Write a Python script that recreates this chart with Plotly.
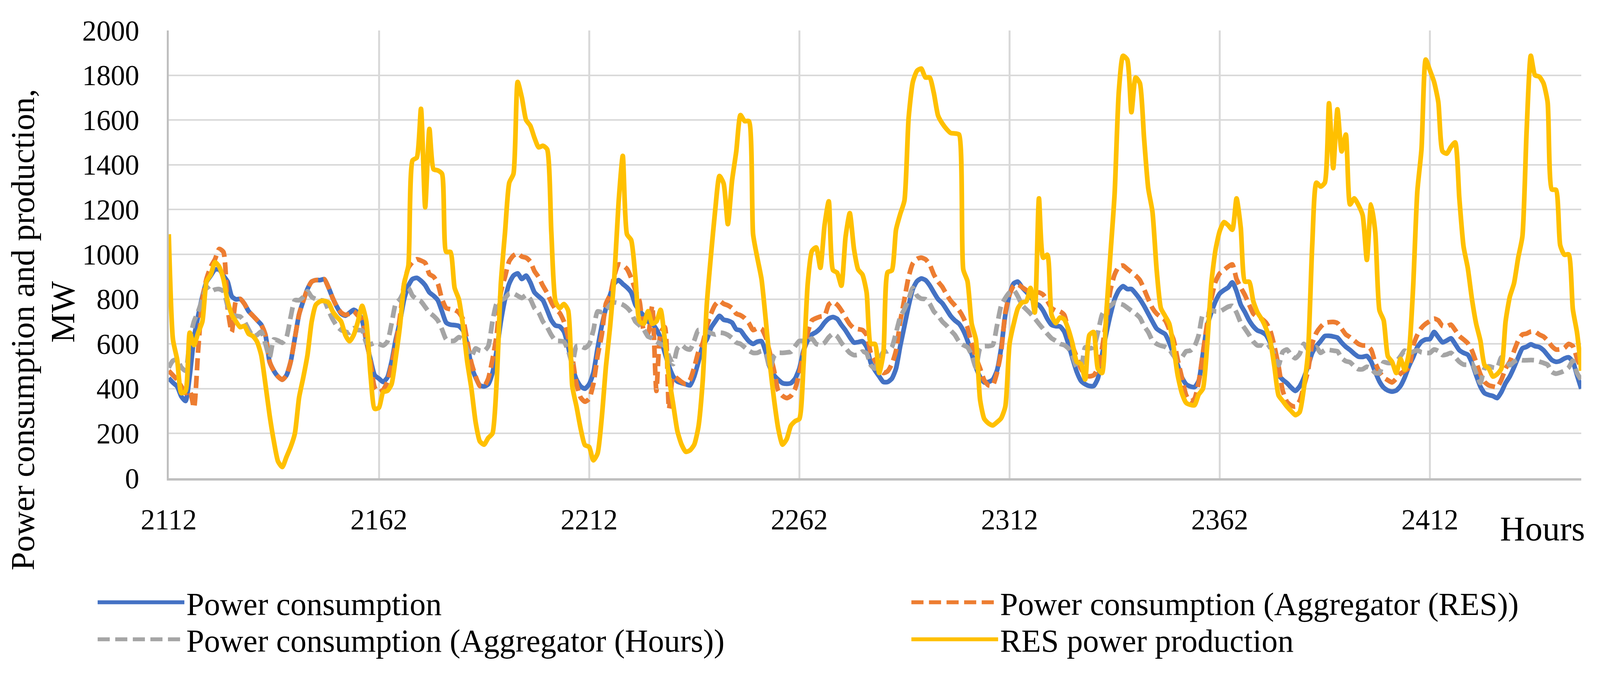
import plotly.graph_objects as go

hours = list(range(2112, 2449))

power_consumption = [
    447, 427, 410, 365, 345, 460, 626, 726, 812, 878,
    905, 932, 932, 905, 878, 812, 799, 801, 779, 746,
    726, 706, 686, 640, 520, 480, 454, 440, 460, 520,
    626, 732, 792, 845, 878, 885, 885, 889, 852, 805,
    766, 735, 726, 739, 752, 740, 705, 610, 530, 460,
    445, 430, 450, 520, 620, 700, 800, 860, 890, 895,
    882, 862, 830, 815, 795, 745, 695, 686, 684, 680,
    660, 600, 500, 450, 415, 410, 420, 470, 570, 700,
    800, 870, 905, 915, 890, 905, 875, 830, 812, 795,
    752, 706, 682, 678, 655, 590, 500, 440, 410, 400,
    420, 470, 580, 680, 760, 820, 870, 885, 868, 852,
    830, 775, 748, 725, 700, 690, 665, 625, 560, 500,
    455, 432, 425, 420, 415, 455, 520, 590, 620, 672,
    700, 725, 708, 704, 695, 665, 660, 635, 612, 600,
    610, 612, 565, 495, 460, 440, 425, 422, 425, 445,
    490, 570, 615, 642, 653, 670, 695, 713, 720, 712,
    685, 660, 630, 606, 608, 612, 587, 515, 482, 455,
    430, 430, 445, 490, 590, 680, 770, 845, 880, 892,
    885, 862, 830, 800, 782, 754, 725, 705, 690, 660,
    615, 555, 496, 452, 428, 430, 440, 480, 580, 730,
    820, 870, 878, 852, 832, 810, 784, 773, 748, 712,
    685, 679, 678, 655, 600, 535, 475, 435, 420, 412,
    412, 445, 550, 645, 730, 800, 840, 858, 845, 845,
    825, 800, 770, 735, 700, 668, 655, 644, 606, 555,
    505, 450, 420, 410, 407, 435, 555, 680, 740, 790,
    825, 840, 852, 875, 835, 775, 742, 705, 678, 660,
    653, 640, 605, 540, 462, 440, 425, 405, 390, 410,
    448, 500, 560, 590, 612, 635, 636, 633, 628, 606,
    587, 573, 556, 543, 542, 546, 522, 475, 432, 405,
    392, 387, 392, 412, 450, 500, 540, 585, 610, 620,
    622, 653, 630, 607, 615, 625, 600, 572, 560, 552,
    515, 460, 410, 380, 372, 367, 358, 385, 425, 455,
    495, 540, 580, 587, 598, 590, 586, 572, 550, 528,
    520, 524, 535, 540, 520, 460, 400,
]

consumption_aggregator_res = [
    480, 460, 440, 410, 380, 390, 315, 573, 800, 892,
    945, 978, 1024, 1011, 759, 653, 792, 801, 779, 746,
    726, 706, 686, 640, 520, 480, 454, 440, 460, 520,
    626, 732, 792, 845, 878, 885, 885, 889, 852, 805,
    766, 740, 730, 735, 745, 726, 710, 620, 520, 405,
    385, 395, 430, 510, 600, 720, 870, 940, 965, 978,
    972, 962, 912, 900, 870, 800, 760, 755, 752, 740,
    710, 613, 515, 455, 412, 410, 445, 530, 640, 830,
    900, 970, 995, 1004, 990, 985, 968, 925, 898, 860,
    828, 786, 755, 738, 700, 630, 540, 420, 360, 342,
    355, 420, 545, 640, 780, 820, 905, 955, 951, 935,
    895, 840, 790, 660, 645, 770, 390, 650, 675, 310,
    455, 445, 430, 420, 440, 495, 565, 603, 680, 735,
    775, 792, 779, 772, 760, 735, 728, 715, 693, 662,
    670, 668, 630, 560, 480, 390, 368, 358, 368, 400,
    470, 560, 650, 705, 715, 722, 726, 776, 788, 775,
    750, 718, 688, 670, 666, 662, 640, 560, 525, 490,
    470, 478, 510, 570, 700, 800, 900, 960, 980, 985,
    978, 955, 910, 878, 855, 822, 793, 772, 750, 718,
    673, 600, 540, 490, 437, 415, 415, 470, 565, 740,
    820, 860, 865, 853, 840, 833, 826, 830, 820, 792,
    760, 748, 745, 730, 660, 590, 540, 490, 460, 455,
    460, 490, 580, 700, 840, 910, 945, 950, 935, 920,
    905, 885, 845, 800, 760, 735, 720, 706, 665, 620,
    530, 450, 372, 342, 355, 430, 560, 690, 800, 878,
    915, 930, 945, 955, 890, 852, 818, 775, 735, 720,
    712, 695, 660, 590, 500, 390, 341, 325, 320, 345,
    410, 480, 600, 650, 676, 693, 697, 698, 693, 668,
    642, 630, 615, 600, 593, 592, 575, 515, 475, 450,
    438, 428, 445, 467, 480, 494, 590, 640, 672, 690,
    702, 713, 705, 680, 678, 686, 662, 635, 620, 603,
    570, 518, 465, 430, 415, 410, 407, 440, 490, 520,
    568, 615, 642, 646, 655, 655, 642, 633, 615, 590,
    575, 576, 582, 600, 590, 535, 490,
]

consumption_aggregator_hours = [
    494, 525, 530, 495, 480, 620, 700, 745, 800, 855,
    835, 843, 845, 835, 770, 730, 725, 722, 700, 665,
    635, 640, 655, 600, 540, 620, 615, 605, 630, 720,
    795, 795, 810, 835, 810, 800, 795, 792, 750, 710,
    680, 662, 655, 650, 670, 662, 660, 605, 598, 605,
    600, 593, 610, 690, 780, 800, 835, 850, 815, 800,
    790, 765, 740, 725, 705, 665, 620, 613, 615, 630,
    620, 575, 545, 580, 570, 568, 590, 700, 780, 795,
    805, 825, 825, 815, 805, 818, 800, 760, 740, 700,
    675, 640, 615, 613, 610, 570, 515, 590, 590, 582,
    598, 660, 745, 742, 750, 775, 785, 782, 775, 762,
    740, 700, 683, 664, 633, 625, 610, 600, 590, 545,
    510, 580, 595, 580, 575, 615, 662, 658, 655, 648,
    642, 650, 648, 640, 626, 606, 600, 585, 570, 560,
    560, 568, 555, 490, 545, 560, 560, 562, 565, 590,
    613, 613, 615, 624, 600, 595, 605, 630, 645, 634,
    605, 582, 560, 550, 552, 566, 558, 505, 490, 530,
    565, 567, 585, 650, 720, 755, 800, 850, 815, 802,
    800, 780, 745, 726, 700, 682, 660, 640, 610, 595,
    585, 550, 495, 580, 590, 590, 595, 680, 770, 805,
    830, 840, 812, 773, 754, 735, 714, 690, 667, 645,
    625, 614, 600, 595, 580, 545, 495, 494, 585, 580,
    585, 650, 730, 758, 770, 785, 780, 775, 762, 748,
    735, 717, 680, 653, 615, 600, 592, 587, 575, 548,
    530, 540, 567, 570, 590, 640, 730, 730, 750, 745,
    745, 755, 766, 770, 740, 695, 668, 640, 610, 593,
    593, 580, 590, 550, 505, 565, 575, 550, 536, 555,
    600, 575, 575, 585, 560, 572, 573, 570, 567, 537,
    523, 518, 500, 487, 487, 498, 490, 470, 470, 518,
    515, 515, 522, 545, 570, 560, 565, 572, 562, 560,
    560, 575, 568, 550, 553, 560, 541, 520, 508, 507,
    512, 470, 425, 490, 500, 495, 494, 540, 535, 505,
    520, 530, 527, 527, 528, 527, 521, 515, 507, 475,
    467, 472, 480, 494, 525, 470, 440,
]

res_power_production = [
    1090, 620, 530, 380, 390, 650, 595, 650, 700, 880,
    910, 965, 945, 890, 790, 730, 700, 675, 680, 645,
    635, 610, 550, 420, 280, 165, 75, 50, 95, 140,
    200, 360, 450, 550, 700, 775, 790, 792, 785, 745,
    720, 700, 640, 612, 640, 700, 770, 700, 460, 310,
    315, 385, 390, 420, 540, 680, 870, 950, 1420, 1432,
    1650, 1210, 1560, 1380, 1375, 1360, 1011, 1011, 850, 800,
    680, 520, 400, 250, 165, 150, 180, 200, 430, 870,
    1100, 1320, 1360, 1770, 1700, 1600, 1575, 1520, 1478, 1485,
    1470, 1100, 790, 760, 778, 750, 410, 320, 220, 148,
    140, 80, 110, 270, 500, 680, 900, 1230, 1440, 1090,
    1064, 900, 700, 690, 746, 690, 700, 752, 620, 450,
    330, 210, 150, 118, 125, 150, 230, 430, 780, 1000,
    1200, 1350, 1316, 1135, 1330, 1460, 1622, 1595, 1595, 1090,
    985, 890, 710, 510, 350, 220, 150, 175, 235, 255,
    265, 507, 870, 1015, 1031, 940, 1130, 1237, 930, 918,
    860, 1078, 1184, 1024, 932, 910, 830, 600, 600, 470,
    560, 920, 928, 1110, 1180, 1240, 1610, 1770, 1820, 1830,
    1790, 1790, 1720, 1620, 1585, 1560, 1542, 1540, 1535, 932,
    880, 690, 620, 350, 265, 245, 236, 250, 268, 320,
    600, 690, 760, 785, 790, 850, 740, 1250, 985, 998,
    730, 693, 718, 710, 665, 600, 520, 510, 441, 640,
    653, 490, 470, 732, 1000, 1270, 1728, 1887, 1870, 1635,
    1790, 1765, 1520, 1295, 1190, 930, 760, 725, 690, 590,
    460, 380, 337, 328, 326, 374, 400, 590, 870, 1020,
    1104, 1144, 1130, 1110, 1250, 1120, 878, 878, 790, 740,
    710, 670, 615, 500, 370, 345, 320, 300, 282, 295,
    400, 560, 1038, 1320, 1303, 1320, 1675, 1385, 1648, 1460,
    1535, 1223, 1250, 1220, 1175, 975, 1223, 1100, 750, 705,
    545, 520, 470, 533, 485, 560, 850, 1280, 1470, 1870,
    1822, 1770, 1680, 1460, 1450, 1480, 1500, 1250, 1035, 940,
    800, 690, 615, 505, 490, 454, 465, 490, 700, 810,
    870, 985, 1080, 1550, 1887, 1800, 1794, 1765, 1680, 1290,
    1288, 1040, 998, 1000, 755, 650, 480,
]

x_tick_values = [2112, 2162, 2212, 2262, 2312, 2362, 2412]
x_tick_labels = ["2112", "2162", "2212", "2262", "2312", "2362", "2412"]

FONT = "Liberation Serif"

# The visible page area is about 4095 x 1722 px; the reference geometry
# (measured on the 4246 x 1766 picture) is mapped onto it with SX / SY.
SX, SY = 4095 / 4246, 1722 / 1766
OFF = 8             # default body margin of the html page

W, H = 4075, 1700


def fx(x_ref):
    return x_ref * SX - OFF


def fy(y_ref):
    return y_ref * SY - OFF


L = round(fx(448))
PR = round(fx(4197))
T = round(fy(80))
PB = round(fy(1277))
R = W - PR
B = H - PB
PW = PR - L
PH = PB - T


def px(x_ref):
    return (fx(x_ref) - L) / PW


def py(y_ref):
    return (PB - fy(y_ref)) / PH


LW = 12
DASH = "31px,14px"

fig = go.Figure()
fig.add_trace(go.Scatter(
    x=hours, y=power_consumption, name="Power consumption", mode="lines",
    line=dict(color="#4472C4", width=LW, shape="spline", smoothing=0.6),
    legend="legend",
))
fig.add_trace(go.Scatter(
    x=hours, y=consumption_aggregator_res, name="Power consumption (Aggregator (RES))", mode="lines",
    line=dict(color="#ED7D31", width=LW, dash=DASH, shape="spline", smoothing=0.6),
    legend="legend2",
))
fig.add_trace(go.Scatter(
    x=hours, y=consumption_aggregator_hours, name="Power consumption (Aggregator (Hours))", mode="lines",
    line=dict(color="#A5A5A5", width=LW, dash=DASH, shape="spline", smoothing=0.6),
    legend="legend3",
))
fig.add_trace(go.Scatter(
    x=hours, y=res_power_production, name="RES power production", mode="lines",
    line=dict(color="#FFC000", width=LW, shape="spline", smoothing=0.6),
    legend="legend4",
))

legend_common = dict(
    orientation="v", xanchor="left", yanchor="top",
    font=dict(family=FONT, size=82, color="black"),
    bgcolor="rgba(0,0,0,0)", itemwidth=222,
)

COL1_X, COL2_X = 254, 2414      # reference px, left of legend box
ROW1_Y, ROW2_Y = 1546, 1645     # reference px, top of legend box

fig.update_layout(
    width=W, height=H,
    margin=dict(l=L, r=R, t=T, b=B),
    paper_bgcolor="white", plot_bgcolor="white",
    showlegend=True,
    legend=dict(x=px(COL1_X), y=py(ROW1_Y), **legend_common),
    legend2=dict(x=px(COL2_X), y=py(ROW1_Y), **legend_common),
    legend3=dict(x=px(COL1_X), y=py(ROW2_Y), **legend_common),
    legend4=dict(x=px(COL2_X), y=py(ROW2_Y), **legend_common),
    xaxis=dict(
        range=[2112, 2448], tickmode="array", tickvals=x_tick_values, ticktext=x_tick_labels,
        showgrid=True, gridcolor="#D9D9D9", gridwidth=5,
        showline=True, linecolor="#BFBFBF", linewidth=6,
        ticks="", ticklabelstandoff=37,
        tickfont=dict(family=FONT, size=73, color="black"),
        zeroline=False,
    ),
    yaxis=dict(
        range=[0, 2000], dtick=200, tick0=0,
        showgrid=True, gridcolor="#D9D9D9", gridwidth=4,
        showline=True, linecolor="#BFBFBF", linewidth=5,
        ticks="", ticklabelstandoff=56,
        tickfont=dict(family=FONT, size=73, color="black"),
        zeroline=False,
    ),
    annotations=[
        dict(text="Power consumption and production,", xref="paper", yref="paper",
             x=px(60), y=py(880), xanchor="center", yanchor="middle", textangle=-90,
             showarrow=False, font=dict(family=FONT, size=85, color="black")),
        dict(text="MW", xref="paper", yref="paper",
             x=px(167), y=py(832), xanchor="center", yanchor="middle", textangle=-90,
             showarrow=False, font=dict(family=FONT, size=86, color="black")),
        dict(text="Hours", xref="paper", yref="paper",
             x=px(4095), y=py(1412), xanchor="center", yanchor="middle",
             showarrow=False, font=dict(family=FONT, size=89, color="black")),
    ],
)

fig.write_html("out.html")
